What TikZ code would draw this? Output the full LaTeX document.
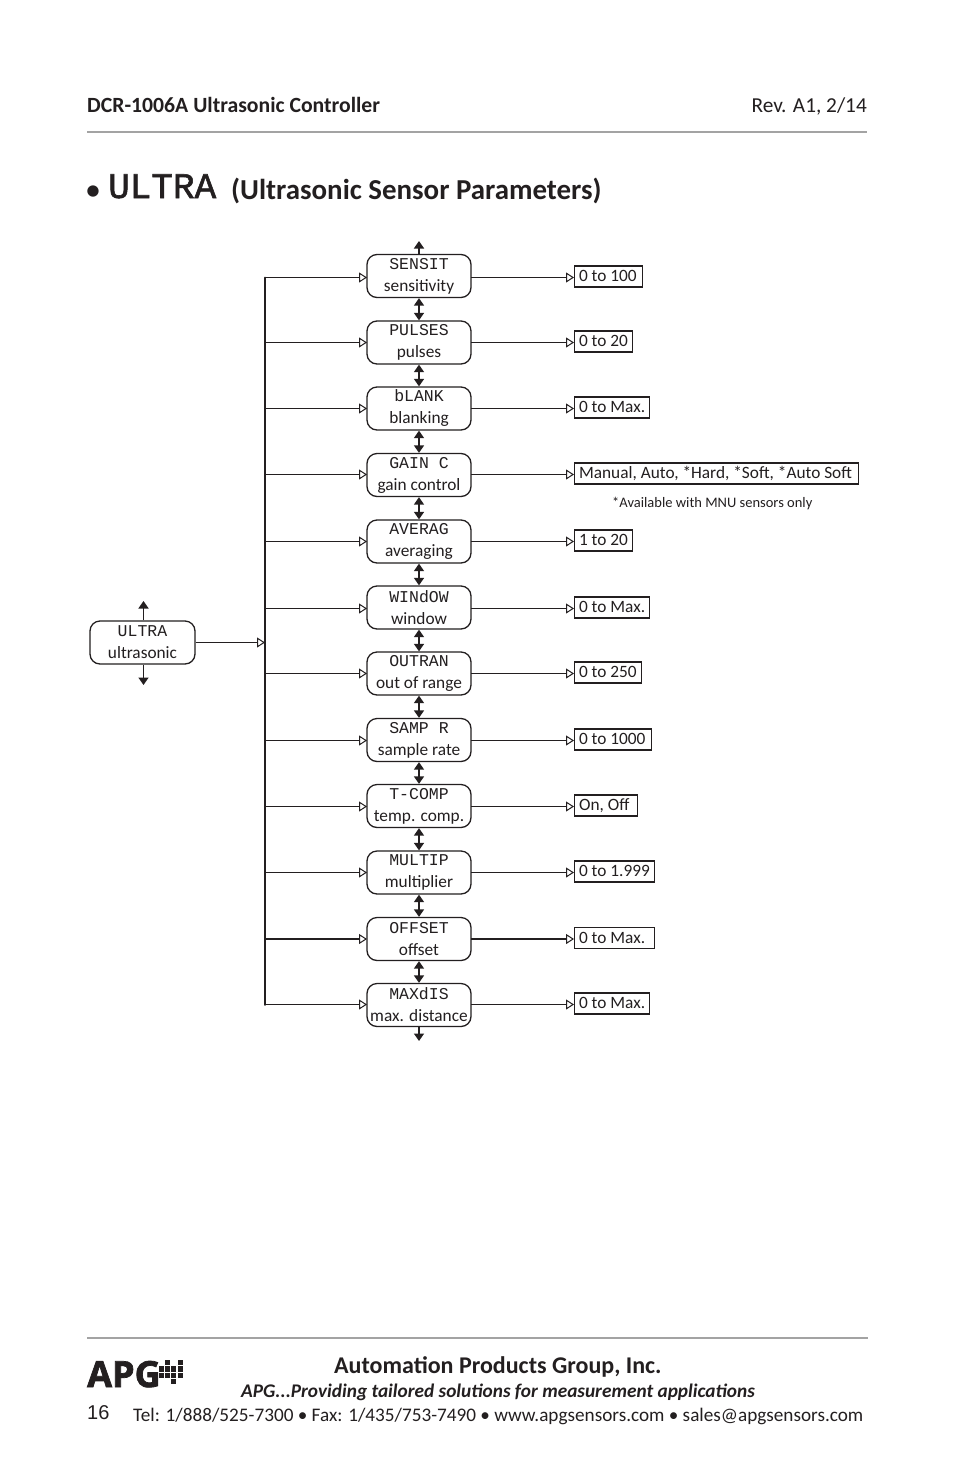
\documentclass[tikz,border=0pt]{standalone}
\usepackage{fontspec}
\setmainfont{Carlito}
\newfontfamily\lcdfont{Liberation Mono}
\newfontfamily\lcdtitle[FakeBold=1.6]{Liberation Mono}
\newfontfamily\logofont[BoldFeatures={FakeBold=2}]{Open Sans}
\usetikzlibrary{arrows.meta,calc}
\definecolor{ink}{HTML}{231F20}
\definecolor{rule}{HTML}{A3A3A3}
\newcommand{\lcd}[1]{{\fontsize{16.5}{22}\lcdfont #1}}
\tikzset{
  every node/.style={text=ink},
  stagebox/.style={draw=ink,line width=1.3pt,rounded corners=10pt,minimum width=104pt,minimum height=43pt,inner sep=0pt,align=center,
     font=\fontsize{17.3}{22}\selectfont},
  valbox/.style={draw=ink,line width=1.1pt,minimum height=21pt,inner ysep=0pt,inner xsep=4.5pt,anchor=west,
     text height=13pt,text depth=3pt,font=\fontsize{17.3}{20}\selectfont},
  link/.style={draw=ink,line width=1pt,-{Triangle[open,length=8pt,width=10pt,fill=white,line width=1pt]}},
  updown/.style={draw=ink,line width=1.5pt,{Triangle[length=7.5pt,width=10pt]}-{Triangle[length=7.5pt,width=10pt]}},
  onearrow/.style={draw=ink,line width=1.5pt,-{Triangle[length=7.5pt,width=10pt]}},
  plain/.style={inner sep=0pt,anchor=base west},
}
\begin{document}
\begin{tikzpicture}[x=1pt,y=-1pt]
\useasboundingbox[fill=white] (0,0) rectangle (954,1475);
% header
\node[plain,font=\fontsize{21.7}{24}\selectfont\bfseries] (hdl) at (87,112) {DCR-1006A Ultrasonic Controller};
\node[plain,anchor=base east,font=\fontsize{21.3}{24}\selectfont] (hdr) at (867,112) {Rev. A1, 2/14};
\coordinate (rt1) at (87,132); \coordinate (rt2) at (867,132);
\draw[rule,line width=2pt] (rt1) -- (rt2);
% title
\node[plain,font=\fontsize{32}{36}\selectfont] (bul) at (85,200) {•};
\node[plain,font=\fontsize{36}{40}\lcdtitle] (ttl) at (108,198) {ULTRA};
\node[plain,font=\fontsize{28.9}{32}\selectfont\bfseries] (tt2) at (231,199) {(Ultrasonic Sensor Parameters)};
% source stage
\node[stagebox,minimum width=105pt] (src) at (142.5,642.5) {\lcd{ULTRA}\\ultrasonic};
\coordinate (srcup) at (143.5,601); \coordinate (srcdn) at (143.5,685);
\draw[onearrow] (src.north -| srcup) -- (srcup);
\draw[onearrow] (src.south -| srcdn) -- (srcdn);
% bus
\coordinate (bustop) at (265,277.5); \coordinate (busbot) at (265,1005);
\draw[ink,line width=1.7pt,line cap=round] (bustop) -- (busbot);
\coordinate (busin) at (265,642.5);
\draw[link] (src.east |- busin) -- (busin);
% rows: index / box centre / arrow y / lcd / label / value / value width / line width
\foreach \i/\cy/\ay/\lc/\lb/\vl/\vw/\lw in {
 1/276/277.5/SENSIT/sensitivity/0 to 100/67.5/1,
 2/342.5/342.5/PULSES/pulses/0 to 20/58/1,
 3/408.5/408.5/bLANK/blanking/0 to Max./75/1,
 4/475/474.5/GAIN C/gain control/{Manual, Auto, *Hard, *Soft, *Auto Soft}/284/1,
 5/541.5/541.5/AVERAG/averaging/1 to 20/58/1,
 6/607.5/608.5/WINdOW/window/0 to Max./75/1,
 7/673.5/673.5/OUTRAN/out of range/0 to 250/67/1,
 8/740/740.5/SAMP R/sample rate/0 to 1000/77/1,
 9/806/806.5/T-COMP/temp. comp./{On, Off}/63/1,
 10/872.5/872.5/MULTIP/multiplier/0 to 1.999/80/1,
 11/939/939/OFFSET/offset/0 to Max./80/2,
 12/1005/1004.5/MAXdIS/max. distance/0 to Max./75/1}
{
  \pgfmathsetlengthmacro\vtw{\vw pt-9pt}
  \node[stagebox] (s\i) at (419,\cy) {\lcd{\lc}\\\lb};
  \node[valbox] (v\i) at (574,\ay-1) {\makebox[\vtw][l]{\vl}};
  \coordinate (b\i) at (265,\ay);
  \coordinate (w\i) at (367,\ay);
  \coordinate (e\i) at (471,\ay);
  \draw[link,line width=\lw pt] (b\i) -- (w\i);
  \draw[link,line width=\lw pt] (e\i) -- (v\i.west |- e\i);
}
\foreach \a/\b in {1/2,2/3,3/4,4/5,5/6,6/7,7/8,8/9,9/10,10/11,11/12}
  \draw[updown] (s\a.south) -- (s\b.north);
\coordinate (topa) at (419,241); \coordinate (bota) at (419,1041);
\draw[onearrow] (s1.north) -- (topa);
\draw[onearrow] (s12.south) -- (bota);
\node[plain,font=\fontsize{14.5}{16}\selectfont] (note) at (612,507.5) {*Available with MNU sensors only};
% footer
\coordinate (rb1) at (87,1338); \coordinate (rb2) at (868,1338);
\draw[rule,line width=2pt] (rb1) -- (rb2);
\node[plain,font=\fontsize{36}{40}\logofont\bfseries] (apg) at (87,1387) {APG};
\foreach \c/\r in {1/0,3/0,0/1,1/1,2/1,3/1,0/2,1/2,2/2,3/2,2/3}
  \fill[ink] (159+\c*6.2,1360+\r*6.3) rectangle +(5,5.2);
\node[plain,font=\fontsize{24}{26}\selectfont\bfseries] (f1) at (334,1373) {Automation Products Group, Inc.};
\node[plain,font=\fontsize{19.3}{22}\selectfont\bfseries\itshape] (f2) at (241,1397) {APG...Providing tailored solutions for measurement applications};
\node[plain,font=\fontsize{20}{22}\selectfont] (pg) at (87,1419) {\fontspec{Liberation Sans}16};
\node[plain,font=\fontsize{19.2}{22}\selectfont] (f3) at (133,1421) {Tel: 1/888/525-7300 • Fax: 1/435/753-7490 • www.apgsensors.com • sales@apgsensors.com};
\end{tikzpicture}
\end{document}
